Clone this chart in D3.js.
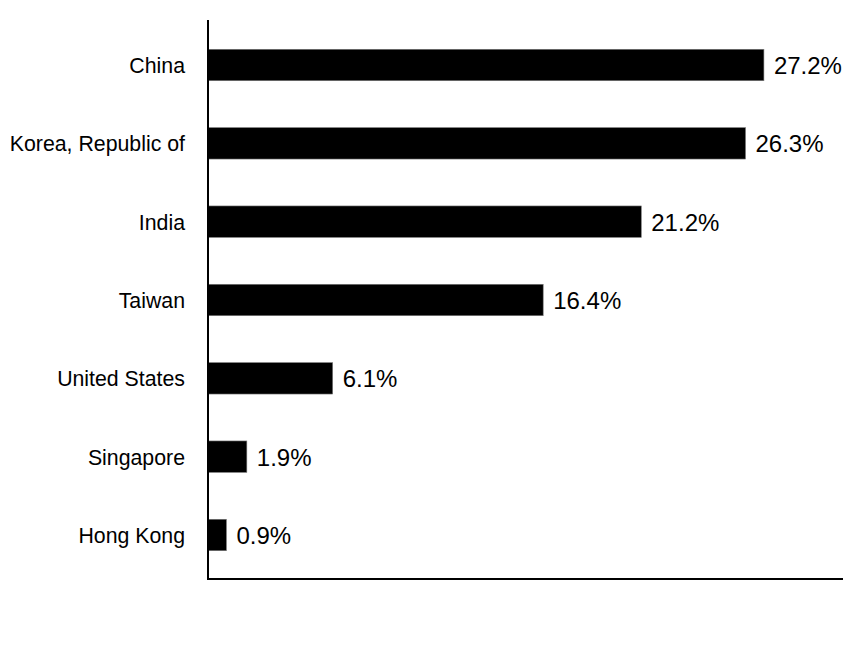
<!DOCTYPE html>
<html>
<head>
<meta charset="utf-8">
<script src="https://cdn.jsdelivr.net/npm/d3@7"></script>
<style>
  html, body { margin: 0; padding: 0; background: #fff; }
  svg { display: block; font-family: "Liberation Sans", Arial, sans-serif; }
</style>
</head>
<body>
<svg id="chart" width="864" height="660"></svg>
<script>
const categories = ["China", "Korea, Republic of", "India", "Taiwan", "United States", "Singapore", "Hong Kong"];
const values = [27.2, 26.3, 21.2, 16.4, 6.1, 1.9, 0.9];
const valueLabels = ["27.2%", "26.3%", "21.2%", "16.4%", "6.1%", "1.9%", "0.9%"];

const svg = d3.select("#chart");
const plotLeft = 208, plotRight = 843, plotTop = 20, plotBottom = 579;

const x = d3.scaleLinear().domain([0, 31.07]).range([plotLeft, plotRight]);
const y = d3.scaleBand().domain(categories).range([plotTop, plotBottom + 1])
  .paddingInner(0.599).paddingOuter(0.374);

const data = categories.map((c, i) => ({ c, v: values[i], l: valueLabels[i] }));

svg.selectAll("rect.bar").data(data).join("rect")
  .attr("class", "bar")
  .attr("x", x(0))
  .attr("y", d => y(d.c))
  .attr("width", d => x(d.v) - x(0))
  .attr("height", y.bandwidth())
  .attr("fill", "#000")
  .attr("stroke", "#777")
  .attr("stroke-width", 0.6);

svg.selectAll("text.val").data(data).join("text")
  .attr("class", "val")
  .attr("x", d => x(d.v) + 10)
  .attr("y", d => y(d.c) + y.bandwidth() / 2)
  .attr("dy", "0.37em")
  .attr("font-size", 24)
  .attr("fill", "#000")
  .text(d => d.l);

svg.selectAll("text.cat").data(data).join("text")
  .attr("class", "cat")
  .attr("x", 185)
  .attr("y", d => y(d.c) + y.bandwidth() / 2)
  .attr("dy", "0.38em")
  .attr("text-anchor", "end")
  .attr("font-size", 21.3)
  .attr("fill", "#000")
  .text(d => d.c);

// axes
svg.append("line")
  .attr("x1", plotLeft).attr("x2", plotLeft)
  .attr("y1", plotTop).attr("y2", plotBottom + 1)
  .attr("stroke", "#000").attr("stroke-width", 2);
svg.append("line")
  .attr("x1", plotLeft - 1).attr("x2", plotRight)
  .attr("y1", plotBottom).attr("y2", plotBottom)
  .attr("stroke", "#000").attr("stroke-width", 2);
</script>
</body>
</html>
